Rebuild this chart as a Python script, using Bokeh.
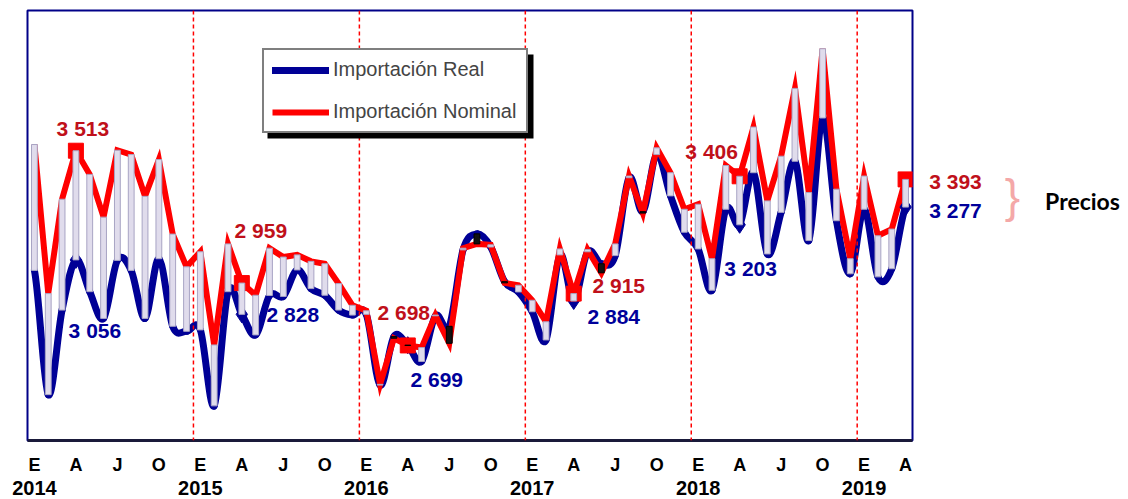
import numpy as np
from bokeh.plotting import figure
from bokeh.layouts import row
from bokeh.models import (Range1d, FixedTicker, Span, Label, Legend, LegendItem,
                          BoxAnnotation, ColumnDataSource, LinearAxis)
from bokeh.core.properties import value
from bokeh.embed import file_html
from bokeh.resources import INLINE

# ---------------- data ----------------
years = ["2014", "2015", "2016", "2017", "2018", "2019"]
month_letters = ["E", "A", "J", "O"]

nominal = [3539, 2915, 3310, 3513, 3414, 3235, 3515, 3497, 3322, 3476, 3164, 3027,
           3090, 2700, 3123, 2959, 2908, 3105, 3068, 3077, 3050, 3040, 2957, 2866,
           2843, 2535, 2728, 2698, 2689, 2825, 2707, 3105, 3123, 3119, 2960, 2950,
           2887, 2797, 3102, 2915, 3099, 3002, 3123, 3407, 3252, 3525, 3421, 3268,
           3289, 3061, 3451, 3406, 3612, 3303, 3490, 3774, 3338, 3940, 3352, 3061,
           3407, 3157, 3185, 3393]

real = [3012, 2492, 2846, 3056, 2923, 2811, 3054, 3012, 2811, 3061, 2778, 2757,
        2763, 2445, 2923, 2828, 2742, 2907, 2903, 3014, 2936, 2908, 2846, 2825,
        2828, 2532, 2735, 2699, 2631, 2822, 2778, 3098, 3165, 3110, 2965, 2922,
        2839, 2721, 3077, 2884, 3090, 3040, 3074, 3400, 3258, 3497, 3324, 3172,
        3102, 2929, 3268, 3203, 3421, 3081, 3255, 3469, 3137, 3650, 3220, 2998,
        3268, 2985, 3019, 3277]

labelled_idx = [3, 15, 27, 39, 51, 63]
side_label = "Precios"

# ---------------- styles ----------------
REAL_C = "#000096"
NOM_C = "#FF0000"
REAL_TXT = "#00009A"
NOM_TXT = "#C0101A"
FONT = "Liberation Sans"
H = 497
TOP, BOTTOM = 10, 54
# label offsets in px (dx, dy up)
nom_off = [(7, 22), (19, 53), (-4, 33), (45, 8), (-28, 25), (50, 2)]
real_off = [(19, -71), (51, 0), (29, -34), (40, -16), (11, -44), (50, -3)]

n = len(nominal)
x = np.arange(n)
yr = Range1d(2300, 4100)

p = figure(width=914, height=H,
           x_range=Range1d(-0.5, n - 0.5), y_range=yr,
           y_axis_type=None, output_backend="svg", toolbar_location=None,
           min_border_left=27, min_border_right=2, min_border_top=TOP,
           min_border_bottom=BOTTOM, background_fill_color="white",
           border_fill_color="white")
p.xgrid.visible = False
p.outline_line_color = "#000088"
p.outline_line_width = 2

# January separators
for k in range(1, len(years)):
    p.add_layout(Span(location=12 * k - 0.5, dimension="height", line_color="#FF0000",
                      line_dash="4 3", line_width=1.5))

# smoothed real line (Catmull-Rom -> cubic bezier)
xs = x.astype(float)
ys = np.array(real, dtype=float)
xp = np.concatenate([[2 * xs[0] - xs[1]], xs, [2 * xs[-1] - xs[-2]]])
yp = np.concatenate([[ys[0]], ys, [ys[-1]]])
bz = dict(x0=xp[1:-2], y0=yp[1:-2], x1=xp[2:-1], y1=yp[2:-1],
          cx0=xp[1:-2] + (xp[2:-1] - xp[:-3]) / 6.0,
          cy0=yp[1:-2] + (yp[2:-1] - yp[:-3]) / 6.0,
          cx1=xp[2:-1] - (xp[3:] - xp[1:-2]) / 6.0,
          cy1=yp[2:-1] - (yp[3:] - yp[1:-2]) / 6.0)
r_real = p.bezier(x0="x0", y0="y0", x1="x1", y1="y1", cx0="cx0", cy0="cy0",
                  cx1="cx1", cy1="cy1", source=ColumnDataSource(bz),
                  line_color=REAL_C, line_width=7, line_cap="round")

r_nom = p.line(x, nominal, line_color=NOM_C, line_width=6, line_join="miter")

# markers at labelled points
p.scatter([x[i] for i in labelled_idx], [real[i] for i in labelled_idx],
          marker="diamond", size=17, fill_color=REAL_C, line_color=REAL_C)
p.scatter([x[i] for i in labelled_idx], [nominal[i] for i in labelled_idx],
          marker="square", size=15, fill_color=NOM_C, line_color=NOM_C)

# up/down bars
tops = [max(a, b) for a, b in zip(nominal, real)]
bots = [min(a, b) for a, b in zip(nominal, real)]
fills = ["#E0DCEC" if a >= b else "#111111" for a, b in zip(nominal, real)]
lines = ["#A8A4C4" if a >= b else "#000000" for a, b in zip(nominal, real)]
p.vbar(x=x, top=tops, bottom=bots, width=0.42, fill_color=fills, line_color=lines,
       line_width=1)

# value labels inside the plot
for k, i in enumerate(labelled_idx[:-1]):
    dx, dy = nom_off[k]
    p.add_layout(Label(x=x[i], y=nominal[i], x_offset=dx, y_offset=dy,
                       text=f"{nominal[i]:,}".replace(",", " "),
                       text_font=FONT, text_font_style="bold", text_font_size="21px",
                       text_color=NOM_TXT, text_align="center", text_baseline="middle"))
    dx, dy = real_off[k]
    p.add_layout(Label(x=x[i], y=real[i], x_offset=dx, y_offset=dy,
                       text=f"{real[i]:,}".replace(",", " "),
                       text_font=FONT, text_font_style="bold", text_font_size="21px",
                       text_color=REAL_TXT, text_align="center", text_baseline="middle"))

# x axis: month letters
ticks = list(range(0, n, 3))
p.xaxis.ticker = FixedTicker(ticks=ticks)
p.xaxis.major_label_overrides = {t: month_letters[k % 4] for k, t in enumerate(ticks)}
p.xaxis.major_label_text_font = FONT
p.xaxis.major_label_text_font_style = "bold"
p.xaxis.major_label_text_font_size = "18px"
p.xaxis.major_label_text_color = "black"
p.xaxis.major_label_standoff = 8
p.xaxis.major_tick_line_color = None
p.xaxis.minor_tick_line_color = None
p.xaxis.axis_line_color = "#1a1a3a"
p.xaxis.axis_line_width = 3

# second axis: years
yticks = [12 * k for k in range(len(years))]
year_axis = LinearAxis(ticker=FixedTicker(ticks=yticks),
                       major_label_overrides={t: years[k] for k, t in enumerate(yticks)},
                       axis_line_color=None, major_tick_line_color=None,
                       minor_tick_line_color=None, major_label_standoff=-3,
                       major_label_text_font=FONT, major_label_text_font_style="bold",
                       major_label_text_font_size="20px", major_label_text_color="black")
p.add_layout(year_axis, "below")

# legend with shadow
p.add_layout(BoxAnnotation(left=240, right=506, bottom=302, top=386,
                           left_units="screen", right_units="screen",
                           bottom_units="screen", top_units="screen",
                           fill_color="black", fill_alpha=1, line_alpha=0))
legend = Legend(items=[LegendItem(label="Importación Real", renderers=[r_real]),
                       LegendItem(label="Importación Nominal", renderers=[r_nom])],
                location=(235, 307), border_line_color="black", border_line_width=2,
                background_fill_color="white", background_fill_alpha=1,
                label_text_font=FONT, label_text_font_size="20px",
                glyph_width=57, glyph_height=20, label_height=20, label_width=185,
                spacing=19, padding=8, margin=0, label_standoff=4)
p.add_layout(legend, "center")

# ---------------- right-hand panel (last values + "Precios") ----------------
q = figure(width=208, height=H, x_range=Range1d(0, 208), y_range=yr,
           x_axis_type=None, y_axis_type=None, output_backend="svg",
           toolbar_location=None, min_border_left=0, min_border_right=0,
           min_border_top=TOP, min_border_bottom=BOTTOM, outline_line_color=None,
           background_fill_color="white", border_fill_color="white")
q.xgrid.visible = False
q.ygrid.visible = False
last = n - 1
q.text(x=[41], y=[nominal[last]], text=[f"{nominal[last]:,}".replace(",", " ")],
       text_font=value(FONT), text_font_style="bold", text_font_size="21px",
       text_color=NOM_TXT, text_align="center", text_baseline="middle", y_offset=2)
q.text(x=[41], y=[real[last]], text=[f"{real[last]:,}".replace(",", " ")],
       text_font=value(FONT), text_font_style="bold", text_font_size="21px",
       text_color=REAL_TXT, text_align="center", text_baseline="middle", y_offset=3)
q.text(x=[98], y=[nominal[last]], text=["}"], text_font=value("Liberation Sans"),
       text_font_size="46px", text_color="#F4A8A8", text_align="center",
       text_baseline="middle", y_offset=17)
q.text(x=[168], y=[nominal[last]], text=[side_label], text_font=value("Lato"),
       text_font_style="bold", text_font_size="23px", text_color="black",
       text_align="center", text_baseline="middle", y_offset=22)

open("out.html", "w").write(file_html(row(p, q), INLINE))
